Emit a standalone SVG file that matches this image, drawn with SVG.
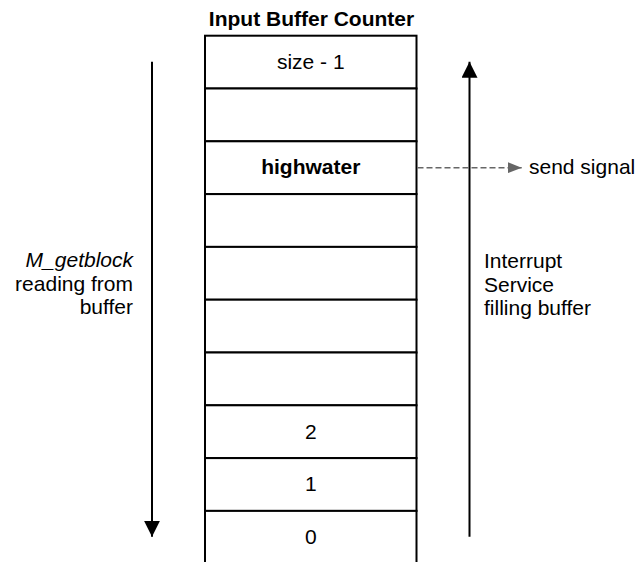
<svg xmlns="http://www.w3.org/2000/svg" width="640" height="562" viewBox="0 0 640 562">
  <style>
    text { font-family: "Liberation Sans", Arial, Helvetica, sans-serif; font-size: 21px; fill: #000; }
    .c { text-anchor: middle; }
    .b { font-weight: bold; }
    .cell { fill: #fff; stroke: #000; stroke-width: 2; }
    .flow { stroke: #000; stroke-width: 2; fill: none; }
    .sig { stroke: #666; stroke-width: 1.5; stroke-dasharray: 6 3; fill: none; }
  </style>
  <defs>
    <marker id="ah" viewBox="0 0 16 16" refX="16" refY="8" markerWidth="16" markerHeight="16" markerUnits="userSpaceOnUse" orient="auto">
      <path d="M0,0 L16,8 L0,16 Z" fill="#000"/>
    </marker>
    <marker id="ahg" viewBox="0 0 14 11" refX="14" refY="5.5" markerWidth="14" markerHeight="11" markerUnits="userSpaceOnUse" orient="auto">
      <path d="M0,0 L14,5.5 L0,11 Z" fill="#666"/>
    </marker>
  </defs>
  <rect width="640" height="562" fill="#fff"/>

  <g id="title">
    <text class="c b" x="311.5" y="26">Input Buffer Counter</text>
  </g>

  <g id="cell-size-1">
    <rect class="cell" x="205" y="35.7" width="211.5" height="52.8"/>
    <text class="c" x="310.75" y="68.8">size - 1</text>
  </g>
  <g id="cell-2">
    <rect class="cell" x="205" y="88.5" width="211.5" height="52.8"/>
  </g>
  <g id="cell-highwater">
    <rect class="cell" x="205" y="141.3" width="211.5" height="52.8"/>
    <text class="c b" x="310.75" y="174.2">highwater</text>
  </g>
  <g id="cell-4">
    <rect class="cell" x="205" y="194.1" width="211.5" height="52.8"/>
  </g>
  <g id="cell-5">
    <rect class="cell" x="205" y="246.9" width="211.5" height="52.8"/>
  </g>
  <g id="cell-6">
    <rect class="cell" x="205" y="299.7" width="211.5" height="52.8"/>
  </g>
  <g id="cell-7">
    <rect class="cell" x="205" y="352.5" width="211.5" height="52.8"/>
  </g>
  <g id="cell-two">
    <rect class="cell" x="205" y="405.3" width="211.5" height="52.8"/>
    <text class="c" x="310.75" y="438.5">2</text>
  </g>
  <g id="cell-one">
    <rect class="cell" x="205" y="458.1" width="211.5" height="52.8"/>
    <text class="c" x="310.75" y="491.2">1</text>
  </g>
  <g id="cell-zero">
    <rect class="cell" x="205" y="510.9" width="211.5" height="60"/>
    <text class="c" x="310.75" y="543.8">0</text>
  </g>

  <g id="label-getblock">
    <text x="133" y="267" text-anchor="end" font-style="italic">M_getblock</text>
    <text x="133" y="290.5" text-anchor="end">reading from</text>
    <text x="133" y="314" text-anchor="end">buffer</text>
  </g>
  <g id="label-interrupt">
    <text x="484" y="268">Interrupt</text>
    <text x="484" y="291.5">Service</text>
    <text x="484" y="315">filling buffer</text>
  </g>
  <g id="label-signal">
    <text x="529" y="173.5">send signal</text>
  </g>

  <g id="connectors">
    <line class="flow" x1="152" y1="61.7" x2="152" y2="536.7" marker-end="url(#ah)"/>
    <line class="flow" x1="469.5" y1="536.7" x2="469.5" y2="61.7" marker-end="url(#ah)"/>
    <line class="sig" x1="417.5" y1="167.7" x2="521.7" y2="167.7" marker-end="url(#ahg)"/>
  </g>
</svg>
